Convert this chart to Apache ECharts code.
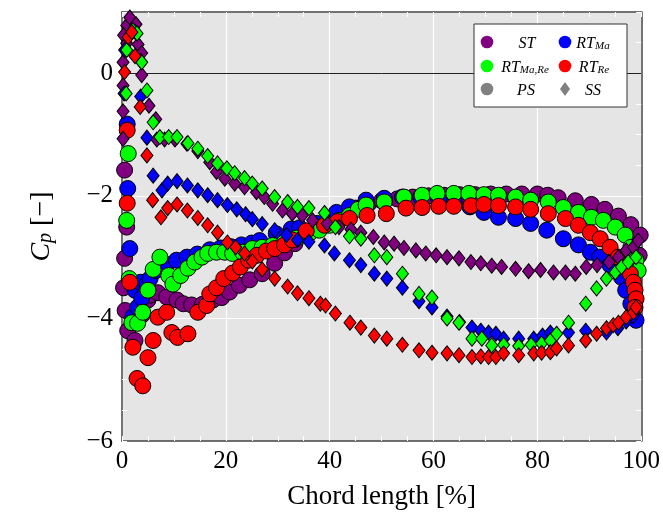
<!DOCTYPE html>
<html>
<head>
<meta charset="utf-8">
<script src="https://cdn.jsdelivr.net/npm/echarts@6/dist/echarts.min.js"></script>
<style>
  html, body { margin: 0; padding: 0; background: #ffffff; }
  #chart { width: 663px; height: 520px; }
</style>
</head>
<body>
<div id="chart"></div>
<script>
// Pressure coefficient along the blade, [chord length %, Cp]
// PS = pressure side (circles), SS = suction side (diamonds)

const stPS = [
  [0.5,-1.58],[0.9,-2.51],[0.5,-3.02],[0.3,-3.5],[0.6,-3.87],[1.1,-4.2],[2.5,-4.36],[3.8,-3.95],[5.0,-3.7],
  [5.5,-3.62],[6.9,-3.58],[8.6,-3.65],[10.6,-3.7],[11.8,-3.76],[13.4,-3.78],[15.5,-3.77],[17.5,-3.7],
  [19.2,-3.66],[20.7,-3.57],[22.6,-3.46],[24.6,-3.37],[27,-3.27],[29.4,-3.1],[31.3,-2.93],[33.3,-2.78],
  [35.5,-2.65],[37.8,-2.53],[40,-2.42],[42.5,-2.3],[45,-2.2],[47.5,-2.13],[50,-2.08],[53,-2.05],[56,-2.02],
  [59,-2.0],[62,-1.99],[65,-1.98],[68,-1.98],[71,-1.97],[74,-1.97],[77,-1.97],[80,-1.97],[82,-1.99],
  [84,-2.03],[87.3,-2.08],[90.4,-2.14],[93,-2.22],[95.6,-2.33],[98,-2.47],[99.8,-2.64],[99.6,-2.97]
];

const rtMaPS = [
  [1.0,-0.83],[1.1,-1.88],[1.5,-2.86],[2.5,-3.54],[2.1,-3.97],[3.0,-3.82],[3.8,-3.67],[3.6,-3.41],
  [4.8,-3.45],[5.4,-3.35],[6.5,-3.22],[8.6,-3.12],[10.5,-3.05],[12.5,-3.0],[14.5,-2.95],[16.9,-2.88],
  [19,-2.85],[21,-2.83],[23,-2.8],[25,-2.77],[26.5,-2.73],[29.7,-2.62],[32.6,-2.54],[34.2,-2.52],
  [37.6,-2.45],[41.3,-2.27],[43.8,-2.18],[47,-2.07],[50.5,-2.04],[54,-2.02],[57.5,-2.02],[61,-2.05],
  [64,-2.1],[67,-2.18],[69.7,-2.27],[72.5,-2.35],[75.8,-2.37],[78.7,-2.45],[81.8,-2.56],[85,-2.7],
  [87.9,-2.8],[90.2,-2.92],[92,-3.0],[94,-3.13],[96.2,-3.33],[97,-3.54],[98,-3.76],[99,-4.03]
];

const rtMaRePS = [
  [1.2,-1.31],[0.9,-2.4],[1.4,-3.35],[1.9,-4.07],[3.0,-4.08],[4.0,-3.9],[5.0,-3.54],[6.0,-3.2],
  [7.3,-3.0],[9.0,-3.3],[9.8,-3.44],[11.3,-3.3],[12.7,-3.18],[14.0,-3.08],[15.4,-3.0],[16.5,-2.94],
  [18.2,-2.92],[19.8,-2.92],[21.3,-2.94],[23.2,-2.92],[25.1,-2.86],[27,-2.84],[29,-2.81],[31.3,-2.76],
  [33.6,-2.69],[36,-2.62],[38,-2.56],[40,-2.48],[41.8,-2.4],[43.8,-2.32],[45.5,-2.22],[47,-2.15],
  [50.5,-2.1],[54.3,-2.02],[57.8,-1.99],[60.7,-1.96],[63.9,-1.96],[66.8,-1.96],[69.7,-1.98],
  [72.5,-1.99],[75.8,-2.02],[78.7,-2.07],[82.1,-2.1],[85,-2.19],[87.9,-2.27],[90.4,-2.35],[92.7,-2.4],
  [95,-2.51],[96.9,-2.64],[98,-2.84],[99,-3.05],[99.4,-3.22]
];

const rtRePS = [
  [1.0,-0.93],[1.0,-2.12],[1.5,-3.41],[2.1,-4.47],[2.9,-4.98],[4.0,-5.1],[5.0,-4.64],[6.0,-4.36],
  [6.9,-3.98],[8.6,-3.9],[9.6,-4.23],[10.7,-4.31],[12.7,-4.25],[14.6,-3.9],[16.3,-3.79],[16.9,-3.6],
  [18.2,-3.5],[19.6,-3.35],[21.3,-3.26],[22.8,-3.16],[24.4,-3.05],[26,-2.97],[27.8,-2.9],[29.4,-2.86],
  [31.3,-2.8],[32.8,-2.72],[35.5,-2.57],[39,-2.48],[41.5,-2.42],[43.8,-2.37],[47.2,-2.32],[50.9,-2.29],
  [54.7,-2.2],[57.8,-2.19],[61,-2.17],[63.9,-2.17],[67.2,-2.16],[69.7,-2.14],[72.5,-2.16],[75.8,-2.18],
  [78.7,-2.22],[82.1,-2.29],[85.4,-2.37],[87.9,-2.48],[90.2,-2.6],[92.1,-2.7],[94,-2.84],[95.6,-3.0],
  [96.9,-3.13],[97.9,-3.27],[98.5,-3.41],[98.8,-3.54],[99,-3.68],[98.8,-3.82]
];

const stSS = [
  [0.9,0.78],[0.3,0.62],[0.9,0.49],[0.2,0.18],[0.2,-0.2],[0.2,-0.62],[0.2,-1.07],
  [1.5,0.91],[2.7,0.8],[3.1,0.47],[3.8,0.33],[3.8,-0.03],[5.2,-0.53],[6.5,-0.75],[6.7,-1.08],
  [8.2,-1.08],[10.2,-1.08],[12.5,-1.15],[14.6,-1.27],[16.9,-1.45],[18.2,-1.61],[19.8,-1.72],
  [21.7,-1.8],[23.6,-1.86],[25.9,-1.94],[27.4,-2.02],[29,-2.13],[30.9,-2.24],[32.8,-2.29],[34.7,-2.32],
  [36.7,-2.4],[39.5,-2.45],[41.8,-2.51],[44.1,-2.55],[46,-2.6],[48.4,-2.67],[50.5,-2.76],[52.4,-2.78],
  [54.3,-2.85],[56.6,-2.89],[58.5,-2.94],[60.5,-2.97],[62.6,-3.0],[64.9,-3.02],[67.2,-3.08],[69.1,-3.1],
  [71.2,-3.14],[73.1,-3.16],[75.8,-3.19],[78.3,-3.23],[80.6,-3.21],[83.1,-3.25],[85.4,-3.25],
  [87.3,-3.27],[89.4,-3.16],[91.5,-3.13],[93.8,-3.08],[95.6,-3.0],[97.1,-2.89],[98.5,-2.84],[99.4,-2.73]
];

const rtMaSS = [
  [0.5,0.38],[0.4,-0.33],[2.5,0.68],[3.6,0.2],[3.6,-0.38],[4.8,-1.05],[6.0,-1.67],[7.7,-1.91],
  [8.8,-1.8],[10.6,-1.76],[12.6,-1.83],[14.6,-1.91],[16.5,-1.99],[18.4,-2.07],[20.3,-2.15],[22.1,-2.22],
  [23.8,-2.3],[25.1,-2.38],[27,-2.46],[29.4,-2.56],[31.7,-2.64],[33.8,-2.72],[36,-2.75],[39,-2.81],
  [40.9,-2.94],[43.8,-3.05],[46,-3.13],[48.6,-3.27],[51,-3.35],[54,-3.5],[57.2,-3.72],[59.7,-3.82],
  [62.6,-3.97],[65,-4.06],[67.4,-4.15],[69.1,-4.2],[70.6,-4.23],[72,-4.25],[73.5,-4.33],[76.4,-4.33],
  [79.3,-4.33],[81,-4.28],[82.5,-4.23],[86,-4.23],[89.3,-4.2],[93.3,-4.23],[95.5,-4.16],[97.1,-4.05],
  [98.5,-3.96]
];

const rtMaReSS = [
  [0.9,0.38],[0.8,-0.33],[2.1,0.7],[2.9,0.65],[3.8,0.18],[4.8,-0.28],[6.0,-0.8],[7.3,-1.04],
  [9.0,-1.04],[10.6,-1.04],[12.7,-1.14],[14.6,-1.23],[16.5,-1.35],[18.4,-1.47],[20.2,-1.55],
  [21.7,-1.63],[23.6,-1.71],[25.1,-1.8],[27,-1.88],[29.4,-2.02],[31.9,-2.1],[33.8,-2.18],[36,-2.2],
  [39,-2.28],[41.1,-2.51],[43.8,-2.66],[46,-2.7],[48.6,-2.97],[51,-3.0],[54,-3.27],[57.2,-3.6],
  [59.7,-3.66],[62.6,-4.0],[64.9,-4.07],[67.4,-4.33],[69.3,-4.33],[71.2,-4.44],[73.5,-4.43],
  [76.4,-4.45],[78.8,-4.43],[80.8,-4.41],[82.5,-4.36],[83.7,-4.25],[86,-4.07],[89.3,-3.76],
  [91.4,-3.51],[93.3,-3.35],[95,-3.25],[96.2,-3.16],[97.5,-3.08],[99,-3.0]
];

const rtReSS = [
  [1.2,0.59],[0.5,0.02],[1.9,0.67],[2.5,0.28],[3.5,-0.55],[4.8,-1.34],[5.9,-2.07],[7.5,-2.35],
  [8.8,-2.2],[10.6,-2.14],[12.6,-2.24],[14.6,-2.36],[16.5,-2.48],[18.4,-2.6],[20.3,-2.76],[21.9,-2.84],
  [23.6,-2.94],[25.1,-3.07],[27,-3.2],[29.4,-3.35],[31.9,-3.48],[33.8,-3.59],[36,-3.67],[38.2,-3.76],
  [39.2,-3.79],[41.1,-3.92],[43.9,-4.07],[46,-4.15],[48.6,-4.28],[51,-4.33],[54,-4.43],[57.2,-4.52],
  [59.7,-4.56],[62.6,-4.57],[64.9,-4.6],[67.4,-4.63],[69.1,-4.62],[70.6,-4.63],[72,-4.63],[73.5,-4.57],
  [76.4,-4.6],[79.3,-4.57],[80.8,-4.56],[82.5,-4.55],[83.7,-4.49],[86,-4.44],[89.3,-4.36],[91.4,-4.25],
  [93.3,-4.16],[94.6,-4.11],[95.6,-4.07],[97.1,-3.98],[98.5,-3.9],[99,-3.82]
];

// Axis extents and tick spacing
const xRange = [0, 100], xStep = 20;
const yRange = [-6, 1], yStep = 2;

const SERIF = '"Liberation Serif", "DejaVu Serif", serif';
const COLORS = { st: '#800080', ma: '#0000ff', mare: '#00ff00', re: '#ff0000', key: '#808080' };

const chart = echarts.init(document.getElementById('chart'), null, { renderer: 'canvas' });

function pts(name, data, color, side) {
  const circle = side === 'PS';
  return {
    type: 'scatter',
    name: name,
    data: data,
    symbol: circle ? 'circle' : 'diamond',
    symbolSize: circle ? 16 : [12, 15],
    itemStyle: { color: color, borderColor: '#000000', borderWidth: 1, opacity: 1 },
    emphasis: { disabled: true },
    silent: true,
    z: 3
  };
}

const minus = v => String(v).replace('-', '\u2212');

const whiteTick = { show: true, inside: true, length: 5, lineStyle: { color: '#ffffff', width: 1 } };
const frame = { show: true, onZero: false, lineStyle: { color: '#444444', width: 1.5 } };

const series = [
  pts('ST PS', stPS, COLORS.st, 'PS'),
  pts('RT Ma PS', rtMaPS, COLORS.ma, 'PS'),
  pts('RT Ma,Re PS', rtMaRePS, COLORS.mare, 'PS'),
  pts('RT Re PS', rtRePS, COLORS.re, 'PS'),
  pts('ST SS', stSS, COLORS.st, 'SS'),
  pts('RT Ma SS', rtMaSS, COLORS.ma, 'SS'),
  pts('RT Ma,Re SS', rtMaReSS, COLORS.mare, 'SS'),
  pts('RT Re SS', rtReSS, COLORS.re, 'SS')
];
// Cp = 0 reference line
series[0].markLine = {
  silent: true, symbol: 'none', z: 1, animation: false,
  label: { show: false },
  lineStyle: { color: '#222222', width: 1, type: 'solid' },
  data: [{ yAxis: 0 }]
};

// Legend box
const legendRich = {
  m: { fontFamily: SERIF, fontStyle: 'italic', fontSize: 16, lineHeight: 20, verticalAlign: 'bottom', fill: '#000' },
  s: { fontFamily: SERIF, fontStyle: 'italic', fontSize: 11, lineHeight: 12, verticalAlign: 'bottom', fill: '#000' }
};
function keyText(text, x, y) {
  return { type: 'text', z: 101, silent: true,
    style: { text: text, x: x, y: y, align: 'center', verticalAlign: 'middle', rich: legendRich } };
}
function keyDot(x, y, color) {
  return { type: 'circle', z: 101, silent: true, shape: { cx: x, cy: y, r: 6.3 }, style: { fill: color } };
}
const graphic = [
  { type: 'rect', z: 100, silent: true, shape: { x: 474, y: 24, width: 153, height: 83 },
    style: { fill: '#ffffff', stroke: '#333333', lineWidth: 1 } },
  keyDot(487, 42, COLORS.st), keyText('{m|ST}', 527, 42),
  keyDot(565, 42, COLORS.ma), keyText('{m|RT}{s|Ma}', 593, 42),
  keyDot(487, 66, COLORS.mare), keyText('{m|RT}{s|Ma,Re}', 525, 66),
  keyDot(565, 66, COLORS.re), keyText('{m|RT}{s|Re}', 594, 66),
  keyDot(487, 89, COLORS.key), keyText('{m|PS}', 526, 89),
  { type: 'polygon', z: 101, silent: true,
    shape: { points: [[565, 82], [570, 89], [565, 96], [560, 89]] }, style: { fill: COLORS.key } },
  keyText('{m|SS}', 593, 89)
];

chart.setOption({
  animation: false,
  backgroundColor: '#ffffff',
  grid: { left: 122, right: 20, top: 12, bottom: 79, show: true, backgroundColor: '#e5e5e5', borderWidth: 0 },
  xAxis: [
    {
      type: 'value', min: xRange[0], max: xRange[1], interval: xStep, position: 'bottom',
      axisLine: frame, axisTick: whiteTick,
      minorTick: { show: true, splitNumber: 4, length: 5, lineStyle: { color: '#ffffff', width: 1 } },
      splitLine: { show: true, lineStyle: { color: '#ffffff', width: 1.2 } },
      axisLabel: { fontFamily: SERIF, fontSize: 25, color: '#000', margin: 8 },
      name: 'Chord length [%]', nameLocation: 'middle', nameGap: 42,
      nameTextStyle: { fontFamily: SERIF, fontSize: 27, color: '#000' }
    },
    {
      type: 'value', min: xRange[0], max: xRange[1], interval: xStep, position: 'top',
      axisLine: frame, axisTick: whiteTick,
      minorTick: { show: true, splitNumber: 4, length: 5, lineStyle: { color: '#ffffff', width: 1 } },
      splitLine: { show: false }, axisLabel: { show: false }
    }
  ],
  yAxis: [
    {
      type: 'value', min: yRange[0], max: yRange[1], interval: yStep, position: 'left',
      axisLine: frame, axisTick: whiteTick,
      minorTick: { show: true, splitNumber: 4, length: 5, lineStyle: { color: '#ffffff', width: 1 } },
      splitLine: { show: true, lineStyle: { color: '#ffffff', width: 1.2 } },
      axisLabel: { fontFamily: SERIF, fontSize: 25, color: '#000', margin: 9, showMaxLabel: false,
        formatter: v => (v > 0 ? '' : minus(v)) },
      name: '{i|C}{s|p}{n| [\u2212]}', nameLocation: 'middle', nameRotate: 90, nameGap: 66,
      nameTextStyle: {
        rich: {
          i: { fontFamily: SERIF, fontStyle: 'italic', fontSize: 28, lineHeight: 30, verticalAlign: 'bottom', color: '#000' },
          s: { fontFamily: SERIF, fontStyle: 'italic', fontSize: 20, lineHeight: 17, verticalAlign: 'bottom', color: '#000' },
          n: { fontFamily: SERIF, fontSize: 28, lineHeight: 30, verticalAlign: 'bottom', color: '#000' }
        }
      }
    },
    {
      type: 'value', min: yRange[0], max: yRange[1], interval: yStep / 4, position: 'right',
      axisLine: frame, axisTick: whiteTick,
      splitLine: { show: false }, axisLabel: { show: false }
    }
  ],
  series: series,
  graphic: graphic
});
</script>
</body>
</html>
